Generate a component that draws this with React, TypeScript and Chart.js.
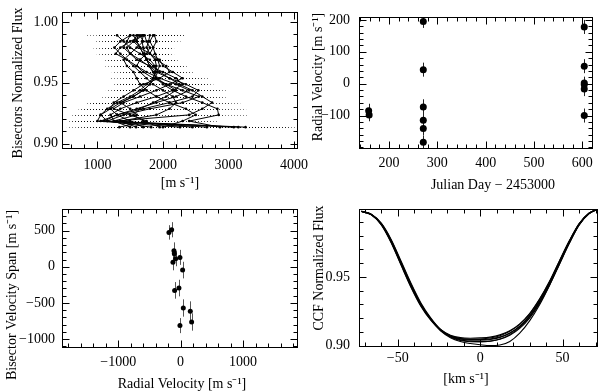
import React, { useEffect, useRef } from 'react';
import { Chart, registerables } from 'chart.js';

Chart.register(...registerables);

const FONT = "'Liberation Serif', 'Times New Roman', Times, serif";
const W = 599;
const H = 392;

// ---------- Panel 1: line bisectors ----------
const BIS_LEVELS = [0.9135, 0.9185, 0.9236, 0.9286, 0.9337, 0.9387, 0.9438, 0.9488, 0.9538, 0.9589, 0.9639, 0.9690, 0.9740, 0.9790, 0.9841, 0.9891];
const BIS_ERR = [800, 450, 430, 440, 430, 360, 420, 420, 400, 330, 330, 290, 290, 320, 370, 480];
const BIS_01 = [3260, 1150, 1400, 1800, 2300, 2550, 2300, 2050, 1900, 1850, 1800, 1750, 1720, 1700, 1680, 1700];
const BIS_02 = [3080, 1050, 1300, 1700, 2100, 2450, 2540, 2350, 2100, 1900, 1800, 1750, 1700, 1650, 1600, 1620];
const BIS_03 = [2870, 2400, 2850, 2830, 2600, 2350, 2150, 2000, 1900, 1850, 1780, 1650, 1500, 1400, 1450, 1500];
const BIS_04 = [2670, 1250, 1600, 1500, 1350, 1550, 1700, 1800, 1850, 1880, 1900, 1880, 1800, 1750, 1780, 1800];
const BIS_05 = [2260, 1000, 1050, 1150, 1300, 1500, 1650, 1750, 1850, 1900, 1950, 1920, 1880, 1850, 1800, 1850];
const BIS_06 = [1820, 1150, 1050, 1200, 1350, 1550, 1700, 1800, 1880, 1920, 1880, 1800, 1650, 1500, 1400, 1300];
const BIS_07 = [1590, 1350, 1900, 2100, 2200, 2150, 2000, 1850, 1750, 1650, 1550, 1450, 1350, 1260, 1350, 1500];
const BIS_08 = [1335, 1750, 1500, 1250, 1400, 1650, 1900, 2100, 2300, 2150, 2000, 1950, 1800, 1650, 1550, 1600];
const BIS_09 = [2450, 1300, 2400, 2600, 2750, 2600, 2450, 2250, 2100, 1950, 1850, 1750, 1700, 1650, 1600, 1550];
const BIS_10 = [1500, 1250, 1200, 1350, 1600, 1900, 2150, 2300, 2200, 2000, 1800, 1600, 1500, 1450, 1550, 1700];
const BIS_11 = [2000, 2300, 2500, 2350, 2100, 1900, 1750, 1650, 1600, 1550, 1450, 1400, 1500, 1600, 1700, 1650];
const BIS_12 = [1700, 1500, 1300, 1200, 1250, 1400, 1550, 1700, 1950, 2100, 2050, 1900, 1800, 1850, 1900, 1870];
const BIS_13 = [3150, 1100, 1300, 1600, 1900, 2200, 2400, 2200, 1950, 1750, 1600, 1450, 1280, 1350, 1500, 1680];
const BIS_14 = [1950, 1700, 1550, 1650, 1850, 2050, 2200, 2050, 1850, 1700, 1600, 1650, 1750, 1800, 1750, 1720];
const BISECTORS = [BIS_01, BIS_02, BIS_03, BIS_04, BIS_05, BIS_06, BIS_07, BIS_08, BIS_09, BIS_10, BIS_11, BIS_12, BIS_13, BIS_14];

// ---------- Panel 2: radial velocity vs time ----------
const JD = [158, 159, 271, 271, 271, 271, 271, 271, 604, 604, 604, 604, 604, 604];
const RV = [-85, -98, 195, 44, -73, -115, -141, -184, 178, 55, 2, -3, -17, -100];
const RV_ERR = [22, 20, 20, 22, 24, 20, 20, 22, 22, 22, 20, 20, 22, 22];

// ---------- Panel 3: bisector span vs RV ----------
const RV_B = [-187, -144, -107, -101, -80, -123, -11, 32, -96, -27, 43, 155, 176, -11];
const BVS = [476, 513, 223, 181, 112, 61, 130, -46, -327, -295, -571, -617, -765, -815];
const BVS_ERR = [100, 105, 115, 110, 105, 110, 104, 115, 115, 115, 120, 138, 120, 104];

// ---------- Panel 4: CCFs ----------
const CCF_V = [-72, -66, -60, -54, -48, -42, -36, -30, -24, -18, -12, -6, 0, 6, 12, 18, 24, 30, 36, 42, 48, 54, 60, 66, 72];
const CCF_1 = [0.9976, 0.9953, 0.9885, 0.9760, 0.9600, 0.9440, 0.9300, 0.9195, 0.9115, 0.9070, 0.9048, 0.9040, 0.9040, 0.9045, 0.9060, 0.9090, 0.9140, 0.9215, 0.9320, 0.9450, 0.9600, 0.9750, 0.9880, 0.9960, 0.9995];
const CCF_2 = [0.9977, 0.9955, 0.9890, 0.9772, 0.9615, 0.9455, 0.9312, 0.9202, 0.9118, 0.9068, 0.9042, 0.9032, 0.9030, 0.9033, 0.9046, 0.9075, 0.9125, 0.9200, 0.9305, 0.9437, 0.9588, 0.9740, 0.9875, 0.9958, 0.9995];
const CCF_3 = [0.9975, 0.9950, 0.9878, 0.9748, 0.9585, 0.9425, 0.9287, 0.9185, 0.9110, 0.9068, 0.9050, 0.9046, 0.9048, 0.9055, 0.9072, 0.9104, 0.9155, 0.9230, 0.9335, 0.9463, 0.9612, 0.9758, 0.9885, 0.9962, 0.9995];
const CCF_4 = [0.9976, 0.9952, 0.9883, 0.9757, 0.9596, 0.9436, 0.9296, 0.9193, 0.9117, 0.9076, 0.9058, 0.9054, 0.9056, 0.9062, 0.9078, 0.9108, 0.9158, 0.9233, 0.9338, 0.9466, 0.9614, 0.9760, 0.9886, 0.9962, 0.9995];
const CCF_5 = [0.9977, 0.9954, 0.9888, 0.9767, 0.9608, 0.9448, 0.9305, 0.9196, 0.9112, 0.9062, 0.9037, 0.9028, 0.9027, 0.9032, 0.9048, 0.9080, 0.9132, 0.9208, 0.9314, 0.9445, 0.9596, 0.9746, 0.9878, 0.9959, 0.9995];
const CCF_6 = [0.9975, 0.9951, 0.9880, 0.9752, 0.9590, 0.9430, 0.9292, 0.9190, 0.9115, 0.9072, 0.9052, 0.9045, 0.9044, 0.9048, 0.9062, 0.9092, 0.9142, 0.9218, 0.9324, 0.9455, 0.9605, 0.9754, 0.9883, 0.9961, 0.9995];
const CCF_7 = [0.9976, 0.9953, 0.9884, 0.9758, 0.9598, 0.9438, 0.9298, 0.9192, 0.9108, 0.9058, 0.9030, 0.9015, 0.9006, 0.9000, 0.9004, 0.9030, 0.9090, 0.9180, 0.9295, 0.9435, 0.9590, 0.9745, 0.9878, 0.9960, 0.9995];
const CCFS = [CCF_1, CCF_2, CCF_3, CCF_4, CCF_5, CCF_6, CCF_7];

// ---------- ticks ----------
const range = (a: number, b: number, s: number) => {
  const r: number[] = [];
  for (let v = a; v <= b + s * 1e-6; v += s) r.push(+v.toFixed(6));
  return r;
};
const P1_X_TICKS = [1000, 2000, 3000, 4000];
const P1_Y_TICKS = [0.9, 0.95, 1.0];
const P2_X_TICKS = [200, 300, 400, 500, 600];
const P2_Y_TICKS = [-100, 0, 100, 200];
const P3_X_TICKS = [-1000, 0, 1000];
const P3_Y_TICKS = [-1000, -500, 0, 500];
const P4_X_TICKS = [-50, 0, 50];
const P4_Y_TICKS = [0.9, 0.95];

const fmt2 = (v: number) => v.toFixed(2);
const fmtInt = (v: number) => (v < 0 ? '\u2212' + Math.abs(Math.round(v)) : String(Math.round(v)));

// ---------- plugins ----------
const idlFrame = {
  id: 'idlFrame',
  afterDraw(chart: any, _a: any, o: any) {
    const { ctx, chartArea: a } = chart;
    const xs = chart.scales.x;
    const ys = chart.scales.y;
    const L = Math.round(a.left) + 0.5;
    const R = Math.round(a.right) - 0.5;
    const T = Math.round(a.top) + 0.5;
    const B = Math.round(a.bottom) - 0.5;
    ctx.save();
    ctx.strokeStyle = '#000';
    ctx.lineWidth = 1;
    ctx.setLineDash([]);
    ctx.strokeRect(L, T, R - L, B - T);
    ctx.beginPath();
    const tx = (v: number, len: number) => {
      const p = Math.round(xs.getPixelForValue(v)) + 0.5;
      if (p <= L || p >= R) return;
      ctx.moveTo(p, B); ctx.lineTo(p, B - len);
      ctx.moveTo(p, T); ctx.lineTo(p, T + len);
    };
    const ty = (v: number, len: number) => {
      const p = Math.round(ys.getPixelForValue(v)) + 0.5;
      if (p <= T || p >= B) return;
      ctx.moveTo(L, p); ctx.lineTo(L + len, p);
      ctx.moveTo(R, p); ctx.lineTo(R - len, p);
    };
    o.xMinor.forEach((v: number) => tx(v, 4));
    o.yMinor.forEach((v: number) => ty(v, 4));
    o.xMajor.forEach((v: number) => tx(v, 7));
    o.yMajor.forEach((v: number) => ty(v, 7));
    ctx.stroke();
    ctx.restore();
  },
};

const errBars = {
  id: 'errBars',
  beforeDatasetsDraw(chart: any) {
    const { ctx, chartArea: a } = chart;
    const xs = chart.scales.x;
    const ys = chart.scales.y;
    ctx.save();
    ctx.beginPath();
    ctx.rect(a.left, a.top, a.right - a.left, a.bottom - a.top);
    ctx.clip();
    chart.data.datasets.forEach((d: any) => {
      if (!d.errStyle) return;
      const dash: number[] = d.errStyle.dash || [];
      const period = dash.reduce((s: number, v: number) => s + v, 0);
      ctx.strokeStyle = d.errStyle.color;
      ctx.lineWidth = d.errStyle.width;
      ctx.setLineDash(dash);
      d.data.forEach((pt: any, i: number) => {
        ctx.beginPath();
        if (d.xErr) {
          const e = d.xErr[i];
          const y = Math.round(ys.getPixelForValue(pt.y)) + 0.5;
          const x0 = xs.getPixelForValue(pt.x - e);
          // align dots to a fixed pixel grid so overlapping bars keep a dotted look
          if (period > 0) ctx.lineDashOffset = x0 % period;
          ctx.moveTo(x0, y);
          ctx.lineTo(xs.getPixelForValue(pt.x + e), y);
        }
        if (d.yErr) {
          const e = d.yErr[i];
          const x = Math.round(xs.getPixelForValue(pt.x)) + 0.5;
          ctx.moveTo(x, ys.getPixelForValue(pt.y - e));
          ctx.lineTo(x, ys.getPixelForValue(pt.y + e));
        }
        ctx.stroke();
      });
    });
    ctx.restore();
  },
};

const axisTitles = {
  id: 'axisTitles',
  afterDraw(chart: any, _a: any, o: any) {
    const ctx = chart.ctx;
    ctx.save();
    ctx.font = `14px ${FONT}`;
    ctx.fillStyle = '#000';
    ctx.textAlign = 'center';
    ctx.textBaseline = 'middle';
    o.items.forEach((t: any) => {
      ctx.save();
      ctx.translate(t.x, t.y);
      if (t.rot) ctx.rotate(-Math.PI / 2);
      ctx.fillText(t.text, 0, 0);
      ctx.restore();
    });
    ctx.restore();
  },
};

type AxisSpec = { min: number; max: number; ticks: number[]; minor: number[]; fmt: (v: number) => string; pad: number };
type Spec = {
  area: { l: number; t: number; r: number; b: number };
  yAxisLeft: number;
  xAxisH: number;
  x: AxisSpec;
  y: AxisSpec;
  titles: { text: string; x: number; y: number; rot?: boolean }[];
};

function makeOptions(s: Spec): any {
  const font = { family: FONT, size: 14 };
  return {
    responsive: false,
    maintainAspectRatio: false,
    animation: false,
    events: [],
    layout: { padding: { left: s.yAxisLeft, top: s.area.t, right: W - s.area.r, bottom: H - s.area.b - s.xAxisH } },
    plugins: {
      legend: { display: false },
      tooltip: { enabled: false },
      idlFrame: { xMajor: s.x.ticks, xMinor: s.x.minor, yMajor: s.y.ticks, yMinor: s.y.minor },
      axisTitles: { items: s.titles },
    },
    scales: {
      x: {
        type: 'linear', position: 'bottom', min: s.x.min, max: s.x.max, bounds: 'data',
        grid: { display: false, drawTicks: false }, border: { display: false },
        afterBuildTicks: (sc: any) => { sc.ticks = s.x.ticks.map((v) => ({ value: v })); },
        afterFit: (sc: any) => { sc.height = s.xAxisH; },
        ticks: { padding: s.x.pad, font, color: '#000', autoSkip: false, maxRotation: 0, minRotation: 0, callback: (v: any) => s.x.fmt(Number(v)) },
      },
      y: {
        type: 'linear', position: 'left', min: s.y.min, max: s.y.max, bounds: 'data',
        grid: { display: false, drawTicks: false }, border: { display: false },
        afterBuildTicks: (sc: any) => { sc.ticks = s.y.ticks.map((v) => ({ value: v })); },
        afterFit: (sc: any) => { sc.width = s.area.l - s.yAxisLeft; },
        ticks: { padding: s.y.pad, font, color: '#000', autoSkip: false, callback: (v: any) => s.y.fmt(Number(v)) },
      },
    },
  };
}

const PLUGINS = [errBars, idlFrame, axisTitles];

function config1(): any {
  return {
    type: 'scatter',
    data: {
      datasets: BISECTORS.map((b) => ({
        data: b.map((v, i) => ({ x: v, y: BIS_LEVELS[i] })),
        showLine: true,
        borderColor: '#000',
        borderWidth: 1,
        pointRadius: 1.3,
        pointBackgroundColor: '#000',
        pointBorderWidth: 0,
        xErr: BIS_ERR,
        errStyle: { color: 'rgba(0,0,0,0.5)', width: 1, dash: [1, 2] },
      })),
    },
    options: makeOptions({
      area: { l: 62, t: 10, r: 298, b: 149 },
      yAxisLeft: 4,
      xAxisH: 45,
      x: { min: 460, max: 4060, ticks: P1_X_TICKS, minor: range(600, 4000, 200), fmt: (v) => String(v), pad: 7.6 },
      y: { min: 0.8955, max: 1.008, ticks: P1_Y_TICKS, minor: range(0.9, 1.0, 0.01), fmt: fmt2, pad: 4 },
      titles: [
        { text: 'Bisectors Normalized Flux', x: 18, y: 83, rot: true },
        { text: '[m s\u207B\u00B9]', x: 180, y: 183.5 },
      ],
    }),
    plugins: PLUGINS,
  };
}

function config2(): any {
  return {
    type: 'scatter',
    data: {
      datasets: [{
        data: JD.map((x, i) => ({ x, y: RV[i] })),
        pointRadius: 3.5,
        pointBackgroundColor: '#000',
        pointBorderColor: '#000',
        pointBorderWidth: 0,
        yErr: RV_ERR,
        errStyle: { color: '#222', width: 1 },
      }],
    },
    options: makeOptions({
      area: { l: 359, t: 14, r: 598, b: 149 },
      yAxisLeft: 310,
      xAxisH: 45,
      x: { min: 138, max: 622, ticks: P2_X_TICKS, minor: range(140, 620, 20), fmt: fmtInt, pad: 6 },
      y: { min: -205, max: 208, ticks: P2_Y_TICKS, minor: range(-200, 200, 20), fmt: fmtInt, pad: 9 },
      titles: [
        { text: 'Radial Velocity [m s\u207B\u00B9]', x: 318.5, y: 77, rot: true },
        { text: 'Julian Day \u2212 2453000', x: 493, y: 185.5 },
      ],
    }),
    plugins: PLUGINS,
  };
}

function config3(): any {
  return {
    type: 'scatter',
    data: {
      datasets: [{
        data: RV_B.map((x, i) => ({ x, y: BVS[i] })),
        pointRadius: 2.5,
        pointBackgroundColor: '#000',
        pointBorderColor: '#000',
        pointBorderWidth: 0,
        yErr: BVS_ERR,
        errStyle: { color: '#555', width: 1 },
      }],
    },
    options: makeOptions({
      area: { l: 62, t: 209, r: 298, b: 348 },
      yAxisLeft: 2,
      xAxisH: 40,
      x: { min: -1900, max: 1880, ticks: P3_X_TICKS, minor: range(-1800, 1800, 200), fmt: fmtInt, pad: 5.6 },
      y: { min: -1125, max: 800, ticks: P3_Y_TICKS, minor: range(-1100, 800, 100), fmt: fmtInt, pad: 7 },
      titles: [
        { text: 'Bisector Velocity Span [m s\u207B\u00B9]', x: 12, y: 295, rot: true },
        { text: 'Radial Velocity [m s\u207B\u00B9]', x: 182, y: 384 },
      ],
    }),
    plugins: PLUGINS,
  };
}

function config4(): any {
  return {
    type: 'scatter',
    data: {
      datasets: CCFS.map((c) => ({
        data: CCF_V.map((x, i) => ({ x, y: c[i] })),
        showLine: true,
        borderColor: '#000',
        borderWidth: 1.1,
        pointRadius: 0,
        cubicInterpolationMode: 'monotone',
      })),
    },
    options: makeOptions({
      area: { l: 359, t: 209, r: 598, b: 347 },
      yAxisLeft: 310,
      xAxisH: 40,
      x: { min: -73.5, max: 71.5, ticks: P4_X_TICKS, minor: range(-70, 70, 10), fmt: fmtInt, pad: 3.1 },
      y: { min: 0.899, max: 0.9993, ticks: P4_Y_TICKS, minor: range(0.9, 0.99, 0.01), fmt: fmt2, pad: 9 },
      titles: [
        { text: 'CCF Normalized Flux', x: 319, y: 268, rot: true },
        { text: '[km s\u207B\u00B9]', x: 466, y: 379 },
      ],
    }),
    plugins: PLUGINS,
  };
}

export default function App() {
  const r1 = useRef<HTMLCanvasElement>(null);
  const r2 = useRef<HTMLCanvasElement>(null);
  const r3 = useRef<HTMLCanvasElement>(null);
  const r4 = useRef<HTMLCanvasElement>(null);

  useEffect(() => {
    const charts = [
      new Chart(r1.current as HTMLCanvasElement, config1()),
      new Chart(r2.current as HTMLCanvasElement, config2()),
      new Chart(r3.current as HTMLCanvasElement, config3()),
      new Chart(r4.current as HTMLCanvasElement, config4()),
    ];
    return () => charts.forEach((c) => c.destroy());
  }, []);

  const cs: React.CSSProperties = { position: 'absolute', left: 0, top: 0 };
  return (
    <div style={{ position: 'absolute', left: 0, top: 0, width: W, height: H, background: '#fff', overflow: 'hidden' }}>
      <canvas ref={r1} width={W} height={H} style={cs} />
      <canvas ref={r2} width={W} height={H} style={cs} />
      <canvas ref={r3} width={W} height={H} style={cs} />
      <canvas ref={r4} width={W} height={H} style={cs} />
    </div>
  );
}
